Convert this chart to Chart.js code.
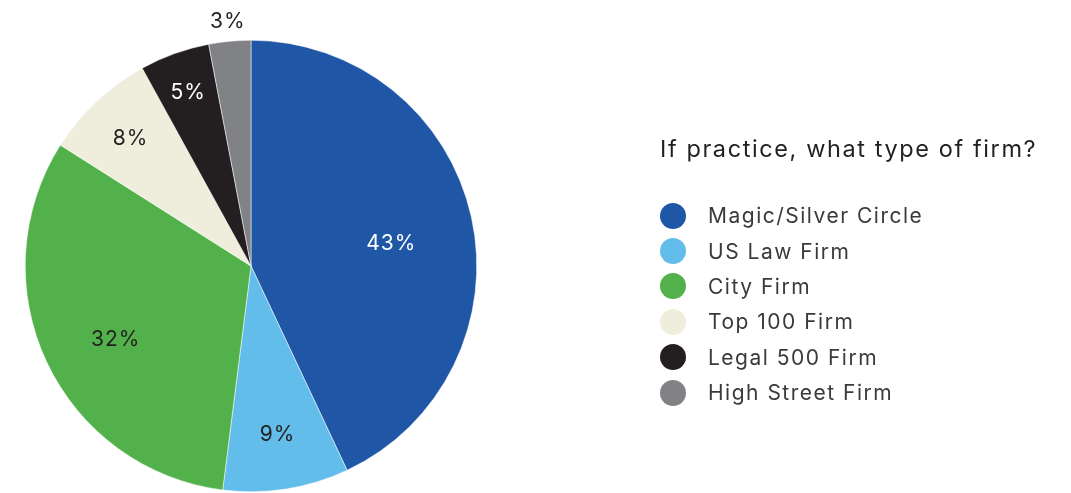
<!DOCTYPE html>
<html>
<head>
<meta charset="utf-8">
<script src="https://cdn.jsdelivr.net/npm/chart.js@4.4.0/dist/chart.umd.min.js"></script>
<style>
  html, body { margin: 0; padding: 0; background: #fff; }
  #wrap { position: relative; width: 1071px; height: 493px; }
  #legend { position: absolute; left: 660px; top: 134px; font-family: Inter, "Open Sans", sans-serif; color: #231f20; }
  #legend h3 { margin: 0 0 34px 0; font-weight: 400; font-size: 23.5px; line-height: 30px; letter-spacing: 1.6px; white-space: nowrap; }
  #legend ul { list-style: none; margin: 0; padding: 0; }
  #legend li { display: flex; align-items: center; height: 35.4px; font-size: 21px; letter-spacing: 1.5px; color: #3a3a3a; white-space: nowrap; }
  #legend .dot { width: 26px; height: 26px; border-radius: 50%; margin: 0 22px 0 0; }
</style>
</head>
<body>
<div id="wrap">
  <canvas id="myChart" width="1071" height="493"></canvas>
  <div id="legend">
    <h3 id="legendTitle"></h3>
    <ul id="legendItems"></ul>
  </div>
</div>
<script>
// Firm types and their share of respondents (%)
const firmTypes = ['Magic/Silver Circle', 'US Law Firm', 'City Firm', 'Top 100 Firm', 'Legal 500 Firm', 'High Street Firm'];
const shares = [43, 9, 32, 8, 5, 3];
const legendTitle = 'If practice, what type of firm?';

const sliceColors = ['#1f56a6', '#63bdea', '#52b14a', '#efeedc', '#231f20', '#808285'];
const labelColors = ['#ffffff', '#231f20', '#231f20', '#231f20', '#ffffff', '#231f20'];
const labelRadius = [0.63, 0.75, 0.68, 0.78, 0.82, 1.09];   // fraction of outer radius
const labelTurn = [3, 0, -3, 0, 0, 0];                       // degrees, nudges along the arc

// Percentage labels drawn on (or just outside) each slice
const sliceLabels = {
    id: 'sliceLabels',
    afterDatasetsDraw(chart) {
        const ctx = chart.ctx;
        const meta = chart.getDatasetMeta(0);
        ctx.save();
        ctx.font = '400 21px Inter, "Open Sans", sans-serif';
        ctx.letterSpacing = '1px';
        ctx.textAlign = 'center';
        ctx.textBaseline = 'middle';
        meta.data.forEach((arc, i) => {
            const p = arc.getProps(['x', 'y', 'startAngle', 'endAngle', 'outerRadius'], true);
            const mid = (p.startAngle + p.endAngle) / 2 + labelTurn[i] * Math.PI / 180;
            const r = p.outerRadius * labelRadius[i];
            ctx.fillStyle = labelColors[i];
            ctx.fillText(shares[i] + '%', p.x + Math.cos(mid) * r, p.y + Math.sin(mid) * r + 1);
        });
        ctx.restore();
    }
};

const ctx = document.getElementById('myChart');
const myChart = new Chart(ctx, {
    type: 'pie',
    data: {
        labels: firmTypes,
        datasets: [{
            data: shares,
            backgroundColor: sliceColors,
            borderColor: '#ffffff',
            borderWidth: 0.5
        }]
    },
    options: {
        responsive: false,
        animation: false,
        layout: {
            padding: { left: 25, right: 594, top: 40, bottom: 1 }
        },
        plugins: {
            legend: { display: false },
            tooltip: { enabled: false }
        }
    },
    plugins: [sliceLabels]
});

// Legend built from the same arrays
document.getElementById('legendTitle').textContent = legendTitle;
const list = document.getElementById('legendItems');
firmTypes.forEach((name, i) => {
    const li = document.createElement('li');
    const dot = document.createElement('span');
    dot.className = 'dot';
    dot.style.background = sliceColors[i];
    li.appendChild(dot);
    li.appendChild(document.createTextNode(name));
    list.appendChild(li);
});
</script>
</body>
</html>
